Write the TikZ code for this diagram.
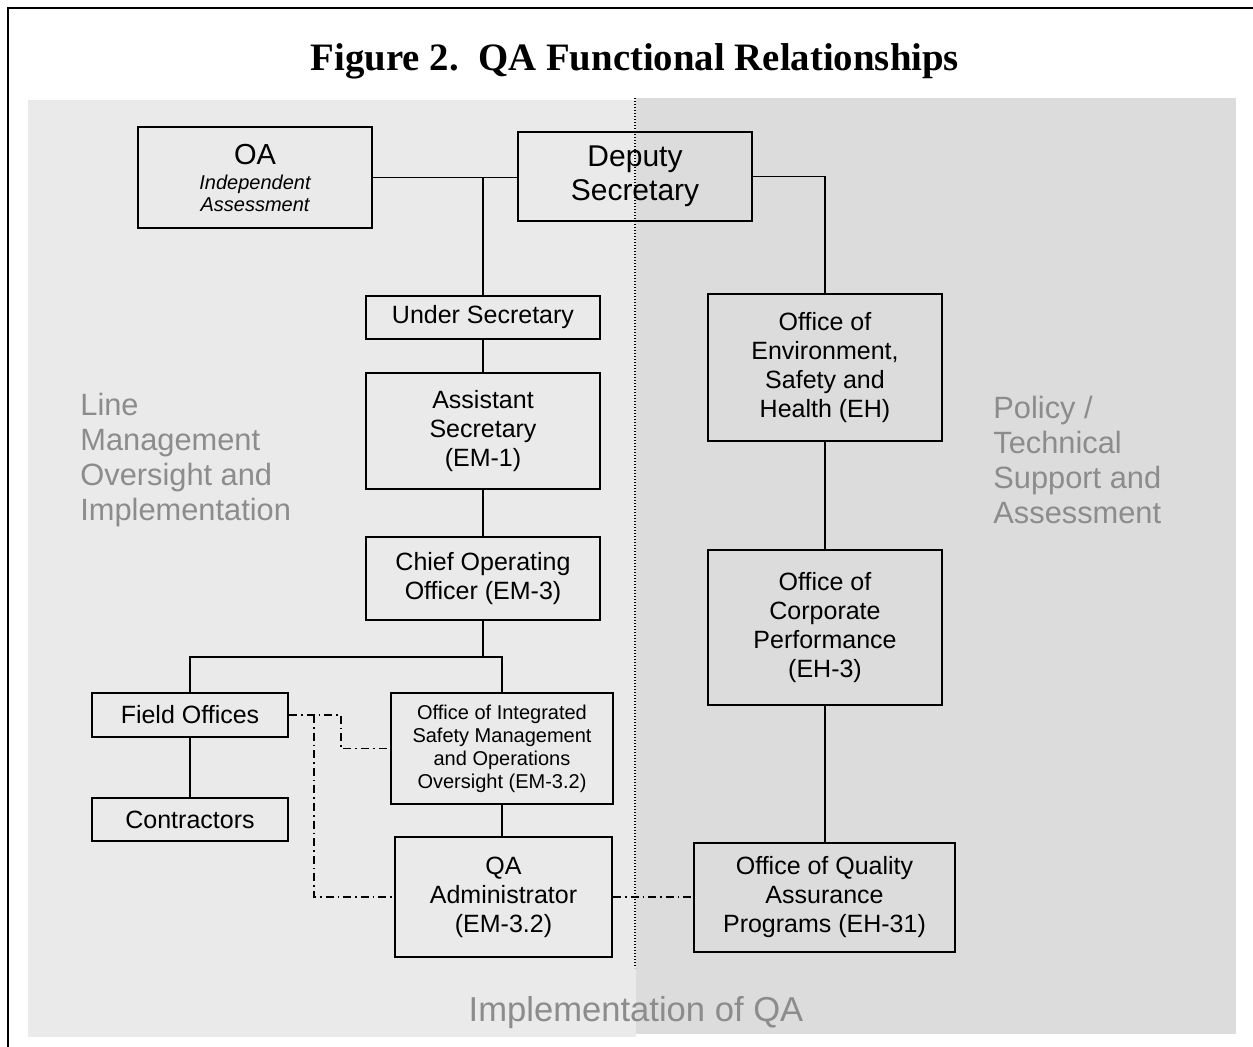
\documentclass[tikz,border=0pt]{standalone}
\usepackage{fontspec}
\setmainfont{Liberation Sans}
\newfontfamily\titlefont{Liberation Serif}
\definecolor{linepanel}{HTML}{EAEAEA}
\definecolor{policypanel}{HTML}{DCDCDC}
\definecolor{labelgray}{HTML}{8C8C8C}

\begin{document}
\begin{tikzpicture}[x=0.5pt,y=-0.5pt,
  orgbox/.style={draw, line width=0.9pt, align=center, inner sep=0pt, font=\fontsize{12.5}{14.5}\selectfont},
  link/.style={draw, line width=0.7pt},
  liaison/.style={draw, line width=0.7pt, dash pattern=on 4pt off 2pt on 0.8pt off 2pt},
  sidelabel/.style={text=labelgray, align=left, anchor=west, inner sep=0pt, font=\fontsize{15.4}{17.5}\selectfont}]
\newcommand\orgbox[7][]{
\node[orgbox, minimum width=#5*0.5pt, minimum height=#6*0.5pt, #1] (#2) at (#3,#4) {#7};
}
\useasboundingbox (0,0) rectangle (1253,1047);
\fill[linepanel] (28,100) rectangle (636,1037);
\fill[policypanel] (636,98) rectangle (1236,1034);
\draw[line width=1pt] (8,1047) -- (8,8) -- (1253,8);

\node[font=\titlefont\bfseries\fontsize{19.4}{23}\selectfont] (title) at (635,61) {Figure 2.\ \ QA Functional Relationships};

\orgbox[font=\fontsize{10}{11}\selectfont\itshape]{oa}{255}{177.5}{234}{101}{{\upshape\fontsize{14.5}{17}\selectfont OA}\\[1.5pt]Independent\\Assessment}
\orgbox[font=\fontsize{15}{17}\selectfont]{deputy}{635}{176.5}{234}{89}{Deputy\\Secretary}
\orgbox{under}{483}{317.5}{234}{43}{Under Secretary}
\orgbox{asst}{483}{431}{234}{116}{Assistant\\Secretary\\(EM-1)}
\orgbox{coo}{483}{578.5}{234}{83}{Chief Operating\\Officer (EM-3)}
\orgbox{field}{190}{715}{196}{44}{Field Offices}
\orgbox{contr}{190}{819.5}{196}{43}{Contractors}
\orgbox[font=\fontsize{10}{11.5}\selectfont]{ism}{502}{748.5}{222}{111}{Office of Integrated\\Safety Management\\and Operations\\Oversight (EM-3.2)}
\orgbox{qaadm}{503.5}{897}{217}{120}{QA\\Administrator\\(EM-3.2)}
\orgbox{esh}{825}{367.5}{234}{147}{Office of\\Environment,\\Safety and\\Health (EH)}
\orgbox{corp}{825}{627.5}{234}{155}{Office of\\Corporate\\Performance\\(EH-3)}
\orgbox{oqap}{824.5}{897.5}{261}{109}{Office of Quality\\Assurance\\Programs (EH-31)}

\coordinate (split) at (483,657);
\path[link] (oa.east) -- (oa.east -| deputy.west);
\path[link] (under.north |- oa.east) -- (under.north);
\path[link] (deputy.east) -| (esh.north);
\path[link] (under.south) -- (asst.north);
\path[link] (asst.south) -- (coo.north);
\path[link, line width=1.4pt] (coo.south) -- (split);
\path[link] (field.north) |- (split) -| (ism.north);
\path[link] (field.south) -- (contr.north);
\path[link] (ism.south) -- (ism.south |- qaadm.north);
\path[link] (esh.south) -- (corp.north);
\path[link] (corp.south) -- (corp.south |- oqap.north);

\path (field.east) ++(25,0) coordinate (drop);
\path[liaison] (field.east) -- ++(52,0) |- (ism.west);
\path[liaison] (drop) |- (qaadm.west);
\path[liaison] (qaadm.east) -- (qaadm.east -| oqap.west);

\draw[line width=0.6pt, dash pattern=on 0.6pt off 0.9pt] (635,98) -- (635,968);

\node[sidelabel] (linemgmt) at (80,460) {Line\\Management\\Oversight and\\Implementation};
\node[sidelabel] (policy) at (993,460) {Policy /\\Technical\\Support and\\Assessment};
\node[text=labelgray, font=\fontsize{17.3}{20}\selectfont] (qaimpl) at (636,1013) {Implementation of QA};
\end{tikzpicture}
\end{document}
